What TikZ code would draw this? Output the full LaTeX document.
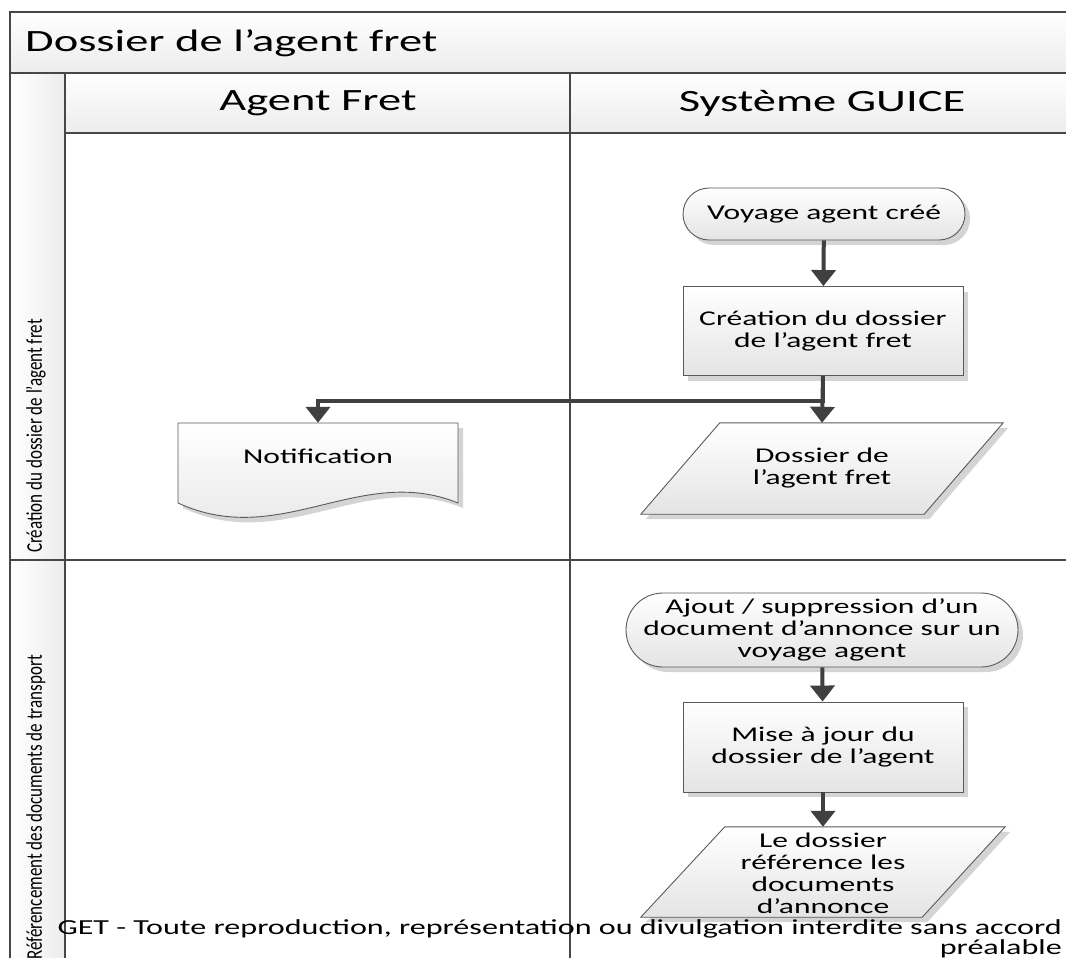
\documentclass[tikz,border=0pt]{standalone}
\usepackage{fontspec}
\setmainfont{Carlito}[FakeStretch=1.5]
\newfontfamily\lanefont{Carlito}[FakeStretch=0.76]
\usetikzlibrary{arrows.meta,shapes.misc,shadows,calc}

\definecolor{lineclr}{HTML}{474747}
\definecolor{flowclr}{HTML}{404040}
\definecolor{edgeclr}{HTML}{5A5A5A}
\definecolor{shadowclr}{HTML}{D4D4D4}
\definecolor{fillbot}{HTML}{E4E4E4}
\definecolor{headbot}{HTML}{ECECEC}

\tikzset{
  lanerule/.style={draw=lineclr, line width=2.6pt},
  bigtext/.style={font=\fontsize{31}{36}\selectfont, inner sep=0pt},
  smalltext/.style={font=\fontsize{21}{22}\selectfont},
  shapefill/.style={draw=edgeclr, line width=0.9pt, top color=white, bottom color=fillbot,
      drop shadow={shadow xshift=5pt, shadow yshift=-5pt, fill=shadowclr, opacity=1}},
  terminal/.style={rounded rectangle, shapefill, smalltext, align=center, inner sep=0pt},
  process/.style={rectangle, shapefill, smalltext, align=center, inner sep=0pt},
  slot/.style={rectangle, smalltext, align=center, inner sep=0pt},
  flow/.style={draw=flowclr, line width=4pt, -{Triangle[width=24pt,length=16pt]}},
  lanelabel/.style={font=\lanefont\fontsize{22.4}{26}\selectfont, rotate=90, inner sep=0pt},
  notice/.style={font=\fontsize{21.4}{15.5}\selectfont, align=right, inner sep=0pt},
}

\begin{document}
\begin{tikzpicture}[x=1pt,y=-1pt]
\useasboundingbox (0,0) rectangle (1066,958);
\fill[white] (0,0) rectangle (1066,958);

% pool title bar, column headers and lane label strips
\shade[top color=white, bottom color=headbot] (10,12) rectangle (1066,73);
\shade[top color=white, bottom color=headbot] (65,73) rectangle (1066,133);
\shade[left color=white, right color=headbot] (10,73) rectangle (65,560);
\shade[left color=white, right color=headbot] (10,560) rectangle (65,958);

% swimlane rules
\draw[lanerule] (10,958) -- (10,12) -- (1066,12);
\draw[lanerule] (10,73) -- (1066,73);
\draw[lanerule] (65,133) -- (1066,133);
\draw[lanerule] (65,73) -- (65,958);
\draw[lanerule] (570,73) -- (570,958);
\draw[lanerule] (10,560) -- (1066,560);

% headings
\node[bigtext, anchor=west] (pool) at (25,43) {Dossier de l’agent fret};
\node[bigtext] (colagent) at (318,103) {Agent Fret};
\node[bigtext] (colguice) at (822,103) {Système GUICE};
\node[lanelabel, anchor=west] (lanecreate) at (36,553) {Création du dossier de l’agent fret};
\node[lanelabel, anchor=east] (laneref) at (36,655) {Référencement des documents de transport};

% lane 1: creation of the file
\node[terminal, minimum width=282pt, minimum height=52pt] (start1) at (824,214) {Voyage agent créé};
\node[process, minimum width=280pt, minimum height=89pt] (create) at (823,331) {Création du dossier\\de l’agent fret};

\path[draw=edgeclr, line width=0.9pt, top color=white, bottom color=fillbot,
      drop shadow={shadow xshift=5pt, shadow yshift=-5pt, fill=shadowclr, opacity=1}]
  (178,423) -- (458,423) -- (458,503)
  .. controls (360,463) and (280,550) .. (178,503) -- cycle;
\node[slot, minimum width=280pt, minimum height=66pt] (notif) at (318,456) {Notification};

\node[slot, minimum width=362pt, minimum height=91pt] (dossier) at (822,468.5) {};
\path[shapefill]
  ($(dossier.north west)+(79,0)$) -- (dossier.north east)
  -- ($(dossier.south east)-(79,0)$) -- (dossier.south west) -- cycle;
\node[slot] (dossiertext) at (dossier) {Dossier de\\l’agent fret};

\draw[flow] (start1) -- (create);
\draw[flow] (create.south) -- (dossier.north);
\draw[flow] (create.south) -- ++(0,25) -| (notif.north);

% lane 2: referencing transport documents
\node[terminal, minimum width=392pt, minimum height=74pt] (start2) at (822,630)
  {Ajout / suppression d’un\\document d’annonce sur un\\voyage agent};
\node[process, minimum width=280pt, minimum height=90pt] (update) at (823,747)
  {Mise à jour du\\dossier de l’agent};
\node[slot, minimum width=364pt, minimum height=90pt] (refdocs) at (823,872) {};
\path[shapefill]
  ($(refdocs.north west)+(84,0)$) -- (refdocs.north east)
  -- ($(refdocs.south east)-(83,0)$) -- (refdocs.south west) -- cycle;
\node[slot] (reftext) at (823,873) {Le dossier\\référence les\\documents\\d’annonce};

\draw[flow] (start2) -- (update);
\draw[flow] (update) -- (refdocs);

% copyright notice
\node[notice, anchor=north east] (legal) at (1062,919.5)
  {GET - Toute reproduction, représentation ou divulgation interdite sans accord\\préalable};
\end{tikzpicture}
\end{document}
